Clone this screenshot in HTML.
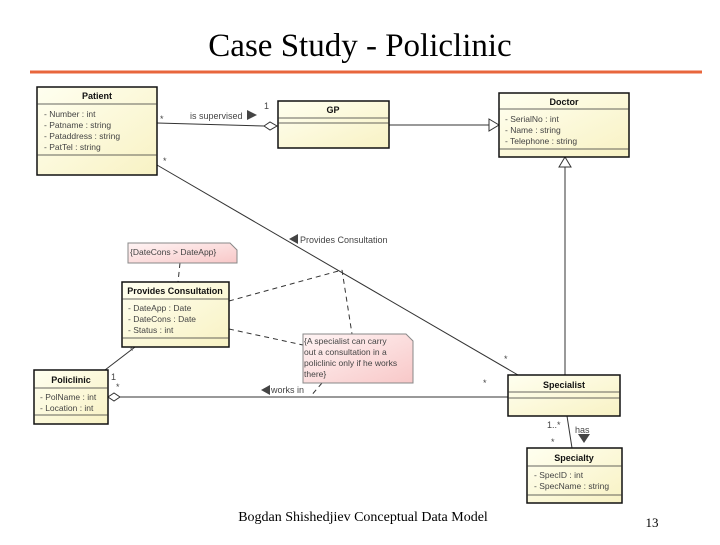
<!DOCTYPE html>
<html><head><style>
body{margin:0;width:720px;height:540px;background:#fff;overflow:hidden}
text{font-family:"Liberation Sans",sans-serif}
</style></head><body>
<svg width="720" height="540" xmlns="http://www.w3.org/2000/svg">
<defs>
<linearGradient id="y" x1="0" y1="0" x2="1" y2="1"><stop offset="0" stop-color="#fffff0"/><stop offset="1" stop-color="#f8f2c4"/></linearGradient>
<linearGradient id="p" x1="0" y1="0" x2="1" y2="1"><stop offset="0" stop-color="#fff4f4"/><stop offset="1" stop-color="#f8c8c8"/></linearGradient>
</defs>
<text x="360" y="56" font-size="33" text-anchor="middle" style="font-family:'Liberation Serif',serif">Case Study - Policlinic</text>
<line x1="30" y1="72" x2="702" y2="72" stroke="#e8663c" stroke-width="3"/>
<g stroke="#333" stroke-width="1" fill="none">
<line x1="157" y1="123" x2="264" y2="126"/>
<polygon points="264,126 270,122 277,126 270,130" fill="#fff"/>
<line x1="389" y1="125" x2="489" y2="125"/>
<polygon points="489,119 499,125 489,131" fill="#fff"/>
<line x1="565" y1="375" x2="565" y2="167"/>
<polygon points="559,167 565,157 571,167" fill="#fff"/>
<line x1="157" y1="165" x2="518" y2="375"/>
<line x1="116" y1="397" x2="508" y2="397"/>
<polygon points="108,397 114,393 120,397 114,401" fill="#fff"/>
<line x1="105" y1="370" x2="135" y2="347"/>
<line x1="567" y1="416" x2="572" y2="448"/>
</g>
<g stroke="#333" stroke-dasharray="5,4" fill="none">
<line x1="229" y1="301" x2="342" y2="270"/>
<line x1="342" y1="270" x2="352" y2="334"/>
<line x1="229" y1="329" x2="303" y2="345"/>
<line x1="180" y1="263" x2="178" y2="282"/>
<line x1="322" y1="383" x2="310" y2="397"/>
</g>
<polygon points="247,110 257,115 247,120" fill="#444"/>
<polygon points="298,234 289,239 298,244" fill="#444"/>
<polygon points="270,385 261,390 270,395" fill="#444"/>
<polygon points="578,434 590,434 584,443" fill="#444"/>
<g font-size="9" fill="#444">
<text x="190" y="119">is supervised</text>
<text x="264" y="109">1</text>
<text x="160" y="122">*</text>
<text x="163" y="164">*</text>
<text x="300" y="243">Provides Consultation</text>
<text x="504" y="362">*</text>
<text x="483" y="386">*</text>
<text x="271" y="393">works in</text>
<text x="111" y="380">1</text>
<text x="116" y="390">*</text>
<text x="130" y="354">*</text>
<text x="547" y="428">1..*</text>
<text x="575" y="433">has</text>
<text x="551" y="445">*</text>
</g>
<g stroke="#111" stroke-width="1.5" fill="url(#y)">
<rect x="37" y="87" width="120" height="88"/>
<rect x="278" y="101" width="111" height="47"/>
<rect x="499" y="93" width="130" height="64"/>
<rect x="508" y="375" width="112" height="41"/>
<rect x="527" y="448" width="95" height="55"/>
<rect x="34" y="370" width="74" height="54"/>
<rect x="122" y="282" width="107" height="65"/>
</g>
<g stroke="#333" stroke-width="0.8">
<line x1="37" y1="104" x2="157" y2="104"/><line x1="37" y1="155" x2="157" y2="155"/>
<line x1="278" y1="118" x2="389" y2="118"/><line x1="278" y1="123" x2="389" y2="123"/>
<line x1="499" y1="109" x2="629" y2="109"/><line x1="499" y1="149" x2="629" y2="149"/>
<line x1="508" y1="392" x2="620" y2="392"/><line x1="508" y1="398" x2="620" y2="398"/>
<line x1="527" y1="466" x2="622" y2="466"/><line x1="527" y1="495" x2="622" y2="495"/>
<line x1="34" y1="388" x2="108" y2="388"/><line x1="34" y1="415" x2="108" y2="415"/>
<line x1="122" y1="299" x2="229" y2="299"/><line x1="122" y1="338" x2="229" y2="338"/>
</g>
<g font-size="9" font-weight="bold" text-anchor="middle" fill="#111">
<text x="97" y="99">Patient</text>
<text x="333" y="113">GP</text>
<text x="564" y="105">Doctor</text>
<text x="564" y="388">Specialist</text>
<text x="574" y="461">Specialty</text>
<text x="71" y="383">Policlinic</text>
<text x="175" y="294">Provides Consultation</text>
</g>
<g font-size="8.5" fill="#444">
<text x="44" y="117">- Number : int</text>
<text x="44" y="128">- Patname : string</text>
<text x="44" y="139">- Pataddress : string</text>
<text x="44" y="150">- PatTel : string</text>
<text x="505" y="122">- SerialNo : int</text>
<text x="505" y="133">- Name : string</text>
<text x="505" y="144">- Telephone : string</text>
<text x="534" y="478">- SpecID : int</text>
<text x="534" y="489">- SpecName : string</text>
<text x="40" y="400">- PolName : int</text>
<text x="40" y="411">- Location : int</text>
<text x="128" y="311">- DateApp : Date</text>
<text x="128" y="322">- DateCons : Date</text>
<text x="128" y="333">- Status : int</text>
</g>
<path d="M128,243 H230 L237,250 V263 H128 Z" fill="url(#p)" stroke="#888"/>
<text x="130" y="255" font-size="8.5" fill="#444">{DateCons &gt; DateApp}</text>
<path d="M303,334 H406 L413,341 V383 H303 Z" fill="url(#p)" stroke="#888"/>
<g font-size="8.5" fill="#444">
<text x="304" y="344">{A specialist can carry</text>
<text x="304" y="355">out a consultation in a</text>
<text x="304" y="366">policlinic only if he works</text>
<text x="304" y="377">there}</text>
</g>
<text x="363" y="521" font-size="14" text-anchor="middle" style="font-family:'Liberation Serif',serif">Bogdan Shishedjiev Conceptual Data Model</text>
<text x="652" y="527" font-size="13" text-anchor="middle" style="font-family:'Liberation Serif',serif">13</text>
</svg>
</body></html>
